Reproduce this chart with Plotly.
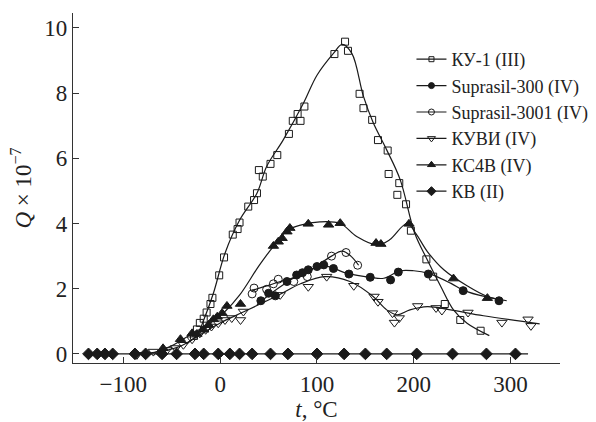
import plotly.graph_objects as go

# ---------------- data ----------------
ku1_t = [-27, -24, -21, -17, -14, -10, -8, -1, 4, 13, 18, 20, 29, 35, 38, 40, 44, 52, 59, 71, 75, 80, 83, 87,
         118, 129, 132, 144, 148, 157, 163, 173, 174, 183, 185, 192, 197, 213, 220, 232, 248, 269]
ku1_q = [0.55, 0.75, 0.95, 1.08, 1.27, 1.53, 1.72, 2.41, 2.96, 3.66, 3.83, 4.03, 4.52, 4.72, 4.93, 5.64, 5.44,
         5.83, 6.10, 6.75, 7.15, 7.36, 7.15, 7.59, 9.20, 9.58, 9.30, 7.98, 7.54, 7.18, 6.56, 6.24, 5.52, 4.88,
         5.24, 4.59, 3.78, 2.90, 2.37, 1.53, 1.04, 0.71]
ku1_fit_t = [-35, -24, -17, -7, 5, 20, 38, 48, 65, 86, 100, 117, 126, 136, 148, 158, 172, 186, 201, 214, 228,
             241, 255, 278]
ku1_fit_q = [0.3, 0.58, 1.04, 1.86, 3.09, 4.1, 4.93, 5.75, 6.56, 7.69, 8.55, 9.22, 9.5, 9.22, 7.9, 7.1, 6.26,
             5.34, 3.7, 2.88, 2.06, 1.35, 0.94, 0.56]

s300_t = [42, 50, 57, 69, 79, 85, 91, 100, 107, 117, 133, 155, 176, 184, 215, 251, 288]
s300_q = [1.63, 1.86, 1.78, 2.22, 2.42, 2.49, 2.58, 2.68, 2.73, 2.62, 2.45, 2.35, 2.27, 2.51, 2.45, 1.94, 1.63]
s300_fit_t = [38, 50, 69, 83, 107, 131, 155, 169, 186, 200, 215, 238, 252, 276, 296]
s300_fit_q = [1.5, 1.8, 2.2, 2.45, 2.7, 2.47, 2.35, 2.32, 2.55, 2.55, 2.47, 2.17, 1.94, 1.74, 1.63]

s3001_t = [33, 35, 48, 55, 60, 76, 90, 115, 130, 142]
s3001_q = [1.84, 2.02, 1.98, 2.15, 2.29, 2.22, 2.37, 3.0, 3.11, 2.72]
s3001_fit_t = [33, 50, 65, 85, 100, 115, 126, 135, 143]
s3001_fit_q = [1.95, 2.1, 2.25, 2.4, 2.7, 3.0, 3.15, 3.0, 2.72]

kuvi_t = [-86, -69, -55, -46, -38, -29, -21, -15, -9, -2, 5, 12, 21, 24, 62, 91, 110, 138, 159, 163, 178, 180,
          185, 204, 223, 229, 256, 291, 318, 321]
kuvi_q = [-0.03, 0.07, 0.12, 0.18, 0.28, 0.45, 0.63, 0.74, 0.84, 0.94, 1.04, 1.1, 1.04, 1.30, 1.81, 2.06, 2.37,
          2.09, 1.76, 1.60, 1.25, 0.96, 1.10, 1.47, 1.41, 1.33, 1.27, 0.96, 1.06, 0.86]
kuvi_fit_t = [-90, -60, -40, -20, 0, 25, 60, 83, 108, 134, 158, 172, 183, 196, 214, 238, 272, 330]
kuvi_fit_q = [0.0, 0.08, 0.25, 0.6, 0.95, 1.3, 1.8, 2.15, 2.37, 2.22, 1.76, 1.35, 1.2, 1.35, 1.45, 1.35, 1.17, 0.92]

kc4b_t = [-59, -41, -29, -24, -17, -12, -7, -3, 2, 7, 21, 55, 60, 64, 69, 72, 91, 112, 124, 161, 166, 195, 241, 276]
kc4b_q = [0.17, 0.45, 0.63, 0.61, 0.74, 0.89, 1.06, 1.14, 1.25, 1.47, 1.53, 3.31, 3.44, 3.55, 3.75, 3.86, 3.99,
          3.96, 4.01, 3.40, 3.37, 3.99, 2.31, 1.71]
kc4b_fit_t = [-70, -50, -30, -10, 5, 20, 40, 55, 69, 83, 103, 124, 141, 162, 175, 193, 202, 214, 231, 255, 276, 284]
kc4b_fit_q = [0.02, 0.25, 0.6, 0.95, 1.3, 1.8, 2.7, 3.3, 3.78, 3.95, 4.05, 4.0, 3.6, 3.34, 3.5, 4.0, 3.7, 3.14,
              2.58, 2.09, 1.76, 1.7]

kv_t = [-136, -127, -119, -111, -88, -77, -60, -45, -26, -17, -2, 10, 20, 33, 52, 70, 100, 128, 150, 172, 203,
        240, 275, 305]
kv_q = [0.0] * len(kv_t)
kv_fit_t = [-140, 318]
kv_fit_q = [0.0, 0.0]

x_ticks = [-100, 0, 100, 200, 300]
x_tick_labels = ["\u2212100", "0", "100", "200", "300"]
y_ticks = [0, 2, 4, 6, 8, 10]
y_tick_labels = ["0", "2", "4", "6", "8", "10"]

series = [
    ("\u041a\u0423-1 (III)", ku1_t, ku1_q, ku1_fit_t, ku1_fit_q, "square-open", 7),
    ("Suprasil-300 (IV)", s300_t, s300_q, s300_fit_t, s300_fit_q, "circle", 8),
    ("Suprasil-3001 (IV)", s3001_t, s3001_q, s3001_fit_t, s3001_fit_q, "circle-open", 8),
    ("\u041a\u0423\u0412\u0418 (IV)", kuvi_t, kuvi_q, kuvi_fit_t, kuvi_fit_q, "triangle-down-open", 9),
    ("\u041a\u04214\u0412 (IV)", kc4b_t, kc4b_q, kc4b_fit_t, kc4b_fit_q, "triangle-up", 9),
    ("\u041a\u0412 (II)", kv_t, kv_q, kv_fit_t, kv_fit_q, "diamond", 9),
]

ink = "#1a1a1a"
fig = go.Figure()

for name, xs, ys, fx, fy, sym, size in series:
    fig.add_trace(go.Scatter(x=fx, y=fy, mode="lines", line=dict(color=ink, width=1.2, shape="spline", smoothing=1.0),
                             showlegend=False, hoverinfo="skip"))
for name, xs, ys, fx, fy, sym, size in series:
    fig.add_trace(go.Scatter(x=xs, y=ys, mode="markers",
                             marker=dict(symbol=sym, size=size, color=ink, line=dict(color=ink, width=1)),
                             showlegend=False, name=name))
for name, xs, ys, fx, fy, sym, size in series:
    fig.add_trace(go.Scatter(x=[None], y=[None], mode="lines+markers", name=name,
                             line=dict(color=ink, width=1.2),
                             marker=dict(symbol=sym, size=size - 2, color=ink, line=dict(color=ink, width=1))))

axis_common = dict(showline=True, linecolor="#333", linewidth=1.3, ticks="inside", ticklen=6,
                   tickcolor="#333", tickwidth=1.2, showgrid=False, zeroline=False, mirror=False,
                   automargin=False,
                   tickfont=dict(family="Liberation Serif", size=23, color="#222"))

fig.update_layout(
    width=596, height=422,
    margin=dict(l=73, r=36, t=13, b=59, autoexpand=False),
    paper_bgcolor="white", plot_bgcolor="white",
    font=dict(family="Liberation Serif", color="#222"),
    xaxis=dict(range=[-152, 351], tickvals=x_ticks, ticktext=x_tick_labels,
               title=dict(text="<i>t</i>, \u00b0C", font=dict(size=23), standoff=0), **axis_common),
    yaxis=dict(range=[-0.28, 10.46], tickvals=y_ticks, ticktext=y_tick_labels, ticklabelstandoff=0,
               title=dict(text="<i>Q</i> \u00d7 10<sup>\u22127</sup>", font=dict(size=23), standoff=6),
               **axis_common),
    legend=dict(x=0.695, y=0.92, xanchor="left", yanchor="top", bgcolor="rgba(0,0,0,0)",
                font=dict(family="Liberation Serif", size=18, color="#222"), itemwidth=30,
                tracegroupgap=0),
    showlegend=True,
)

fig.write_html("out.html", config={"displayModeBar": False},
               post_script="document.body.style.margin='0';document.body.style.padding='0';"
                           "document.body.style.overflow='hidden';")
